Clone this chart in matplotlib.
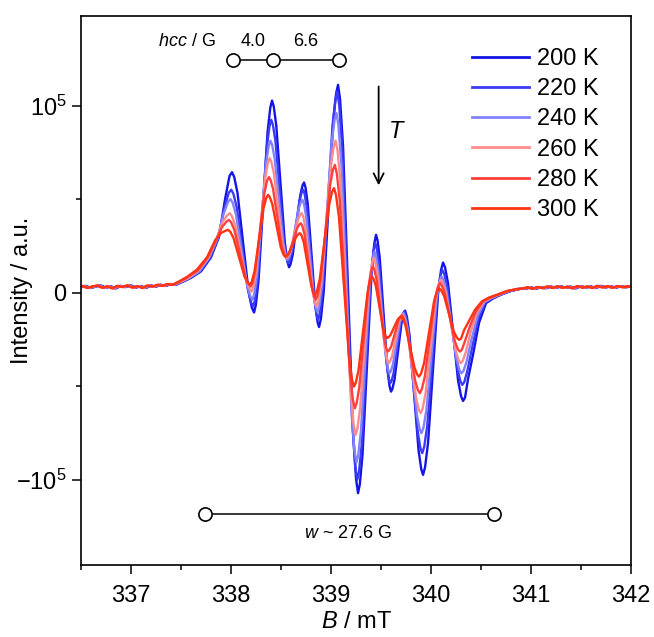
import matplotlib
matplotlib.use('Agg')
import matplotlib.pyplot as plt
import numpy as np
from matplotlib.ticker import FixedLocator, FixedFormatter, MultipleLocator

plt.rcParams['font.family'] = ['Liberation Sans', 'DejaVu Sans']
plt.rcParams['mathtext.fontset'] = 'custom'
plt.rcParams['mathtext.rm'] = 'Liberation Sans'
plt.rcParams['mathtext.it'] = 'Liberation Sans:italic'
plt.rcParams['axes.unicode_minus'] = True

# ---------------- data ----------------
labels = ['200 K', '220 K', '240 K', '260 K', '280 K', '300 K']
colors = ['#1414e6', '#3a3af7', '#8282ff', '#ff8c8c', '#ff4040', '#ff3414']
field_shift = [0.0, -0.008, -0.016, -0.024, -0.032, -0.040]   # mT, line positions drift with T
unit = 1e5  # intensities below are in units of 10^5

B_left = [336.50, 336.55, 336.60, 336.65, 336.70, 336.75, 336.80, 336.85, 336.90, 336.95,
          337.00, 337.05, 337.10, 337.15, 337.20, 337.25, 337.30, 337.35, 337.40, 337.45]
I_left = [0.030, 0.037, 0.026, 0.034, 0.039, 0.027, 0.035, 0.024, 0.037, 0.031,
          0.040, 0.028, 0.036, 0.026, 0.039, 0.033, 0.043, 0.037, 0.047, 0.043]

B_right = [340.95, 341.00, 341.05, 341.10, 341.15, 341.20, 341.25, 341.30, 341.35, 341.40,
           341.45, 341.50, 341.55, 341.60, 341.65, 341.70, 341.75, 341.80, 341.85, 341.90,
           341.95, 342.00, 342.05]
I_right = [0.022, 0.030, 0.021, 0.031, 0.025, 0.034, 0.026, 0.035, 0.027, 0.033,
           0.024, 0.036, 0.028, 0.034, 0.026, 0.037, 0.029, 0.035, 0.027, 0.036,
           0.030, 0.034, 0.032]

B_core = [337.50, 337.60, 337.70, 337.80, 337.88, 337.94,
          337.985, 338.01, 338.032,
          338.065, 338.12, 338.175,
          338.208, 338.23, 338.248,
          338.275, 338.32, 338.365,
          338.392, 338.41, 338.427,
          338.4525, 338.495, 338.5375,
          338.563, 338.58, 338.595,
          338.6175, 338.655, 338.6925,
          338.715, 338.73, 338.745,
          338.7675, 338.805, 338.8425,
          338.865, 338.88, 338.899,
          338.9275, 338.975, 339.0225,
          339.051, 339.07, 339.09,
          339.12, 339.17, 339.22,
          339.25, 339.27, 339.288,
          339.315, 339.36, 339.405,
          339.432, 339.45, 339.465,
          339.4875, 339.525, 339.5625,
          339.585, 339.60, 339.614,
          339.635, 339.67, 339.705,
          339.726, 339.74, 339.758,
          339.785, 339.83, 339.875,
          339.902, 339.92, 339.94,
          339.97, 340.02, 340.07,
          340.10, 340.12, 340.14,
          340.17, 340.22, 340.27,
          340.30, 340.32, 340.34,
          340.37, 340.42, 340.48, 340.55, 340.62, 340.70, 340.80, 340.90]

I_200 = [0.055, 0.08, 0.115, 0.19, 0.30, 0.50,
         0.625, 0.645, 0.619,
         0.533, 0.270, 0.008,
         -0.079, -0.105, -0.065,
         0.065, 0.462, 0.858,
         0.988, 1.028, 0.997,
         0.894, 0.583, 0.271,
         0.168, 0.137, 0.153,
         0.205, 0.364, 0.522,
         0.574, 0.590, 0.563,
         0.474, 0.204, -0.067,
         -0.156, -0.183, -0.138,
         0.011, 0.465, 0.918,
         1.067, 1.112, 1.036,
         0.785, 0.021, -0.744,
         -0.995, -1.071, -1.023,
         -0.864, -0.381, 0.103,
         0.262, 0.310, 0.281,
         0.184, -0.109, -0.402,
         -0.499, -0.528, -0.513,
         -0.463, -0.312, -0.160,
         -0.110, -0.095, -0.126,
         -0.227, -0.534, -0.841,
         -0.942, -0.973, -0.933,
         -0.803, -0.406, -0.008,
         0.122, 0.162, 0.136,
         0.051, -0.208, -0.467,
         -0.552, -0.578, -0.560,
         -0.46, -0.33, -0.16, -0.055, -0.03, -0.01, 0.01, 0.022]

I_220 = [0.055, 0.08, 0.115, 0.19, 0.29, 0.45,
         0.535, 0.551, 0.529,
         0.457, 0.239, 0.021,
         -0.051, -0.073, -0.038,
         0.077, 0.426, 0.775,
         0.890, 0.925, 0.898,
         0.810, 0.542, 0.274,
         0.186, 0.159, 0.173,
         0.218, 0.355, 0.492,
         0.537, 0.551, 0.527,
         0.447, 0.204, -0.040,
         -0.120, -0.144, -0.101,
         0.039, 0.466, 0.893,
         1.033, 1.076, 1.003,
         0.765, 0.038, -0.689,
         -0.927, -1.000, -0.956,
         -0.810, -0.367, 0.076,
         0.222, 0.266, 0.240,
         0.154, -0.109, -0.371,
         -0.457, -0.483, -0.470,
         -0.426, -0.292, -0.157,
         -0.113, -0.100, -0.126,
         -0.214, -0.479, -0.743,
         -0.831, -0.857, -0.823,
         -0.710, -0.367, -0.024,
         0.089, 0.123, 0.101,
         0.031, -0.185, -0.400,
         -0.470, -0.492, -0.478,
         -0.42, -0.29, -0.14, -0.052, -0.03, -0.01, 0.01, 0.022]

I_240 = [0.055, 0.08, 0.115, 0.19, 0.29, 0.42,
         0.485, 0.501, 0.482,
         0.420, 0.232, 0.044,
         -0.018, -0.037, -0.007,
         0.091, 0.388, 0.686,
         0.783, 0.813, 0.791,
         0.718, 0.495, 0.272,
         0.198, 0.176, 0.187,
         0.224, 0.337, 0.449,
         0.486, 0.497, 0.476,
         0.407, 0.196, -0.015,
         -0.084, -0.105, -0.068,
         0.055, 0.428, 0.801,
         0.924, 0.961, 0.896,
         0.681, 0.027, -0.627,
         -0.842, -0.907, -0.868,
         -0.738, -0.343, 0.052,
         0.182, 0.221, 0.198,
         0.123, -0.105, -0.332,
         -0.407, -0.430, -0.419,
         -0.382, -0.269, -0.156,
         -0.119, -0.108, -0.130,
         -0.204, -0.429, -0.654,
         -0.728, -0.750, -0.721,
         -0.625, -0.332, -0.039,
         0.058, 0.087, 0.069,
         0.009, -0.172, -0.352,
         -0.412, -0.430, -0.418,
         -0.37, -0.25, -0.125, -0.05, -0.028, -0.01, 0.01, 0.022]

I_260 = [0.055, 0.08, 0.12, 0.19, 0.29, 0.38,
         0.414, 0.426, 0.411,
         0.363, 0.217, 0.070,
         0.022, 0.007, 0.032,
         0.114, 0.364, 0.613,
         0.695, 0.720, 0.701,
         0.640, 0.453, 0.266,
         0.205, 0.186, 0.194,
         0.222, 0.306, 0.390,
         0.418, 0.426, 0.409,
         0.351, 0.177, 0.002,
         -0.056, -0.073, -0.042,
         0.060, 0.371, 0.681,
         0.783, 0.814, 0.759,
         0.578, 0.028, -0.523,
         -0.704, -0.759, -0.726,
         -0.617, -0.287, 0.044,
         0.153, 0.186, 0.166,
         0.102, -0.095, -0.292,
         -0.356, -0.376, -0.367,
         -0.337, -0.246, -0.154,
         -0.124, -0.115, -0.133,
         -0.194, -0.379, -0.564,
         -0.625, -0.643, -0.618,
         -0.536, -0.287, -0.037,
         0.045, 0.070, 0.054,
         0.003, -0.153, -0.309,
         -0.360, -0.376, -0.365,
         -0.32, -0.21, -0.11, -0.048, -0.027, -0.01, 0.01, 0.022]

I_280 = [0.055, 0.085, 0.12, 0.19, 0.28, 0.35,
         0.380, 0.390, 0.378,
         0.337, 0.212, 0.087,
         0.046, 0.034, 0.054,
         0.122, 0.327, 0.531,
         0.599, 0.619, 0.604,
         0.555, 0.405, 0.255,
         0.206, 0.191, 0.197,
         0.218, 0.282, 0.345,
         0.366, 0.372, 0.358,
         0.311, 0.168, 0.024,
         -0.023, -0.037, -0.012,
         0.071, 0.324, 0.576,
         0.659, 0.684, 0.638,
         0.489, 0.034, -0.422,
         -0.571, -0.617, -0.590,
         -0.503, -0.238, 0.027,
         0.114, 0.141, 0.125,
         0.073, -0.087, -0.246,
         -0.298, -0.314, -0.307,
         -0.285, -0.217, -0.149,
         -0.127, -0.120, -0.135,
         -0.182, -0.328, -0.474,
         -0.521, -0.536, -0.515,
         -0.448, -0.242, -0.036,
         0.031, 0.052, 0.039,
         -0.003, -0.131, -0.259,
         -0.301, -0.314, -0.305,
         -0.26, -0.18, -0.10, -0.046, -0.026, -0.01, 0.01, 0.021]

I_300 = [0.055, 0.085, 0.125, 0.19, 0.28, 0.32,
         0.332, 0.337, 0.327,
         0.293, 0.190, 0.087,
         0.053, 0.043, 0.060,
         0.115, 0.284, 0.452,
         0.507, 0.524, 0.512,
         0.475, 0.359, 0.244,
         0.206, 0.194, 0.198,
         0.213, 0.257, 0.300,
         0.315, 0.319, 0.307,
         0.270, 0.154, 0.039,
         0.001, -0.011, 0.009,
         0.075, 0.275, 0.474,
         0.540, 0.560, 0.523,
         0.401, 0.030, -0.342,
         -0.464, -0.501, -0.480,
         -0.413, -0.207, -0.001,
         0.066, 0.087, 0.075,
         0.038, -0.078, -0.193,
         -0.230, -0.242, -0.238,
         -0.225, -0.185, -0.144,
         -0.131, -0.127, -0.138,
         -0.175, -0.288, -0.400,
         -0.437, -0.448, -0.431,
         -0.377, -0.212, -0.046,
         0.008, 0.025, 0.015,
         -0.016, -0.113, -0.210,
         -0.241, -0.251, -0.245,
         -0.20, -0.15, -0.09, -0.045, -0.025, -0.01, 0.01, 0.02]

spectra = [I_200, I_220, I_240, I_260, I_280, I_300]

hcc_B = [338.02, 338.42, 339.078]
hcc_values = ['4.0', '6.6']
w_B = [337.742, 340.628]
w_text = '$w$ ~ 27.6 G'

# ---------------- figure ----------------
fig = plt.figure(figsize=(6.54, 6.37), dpi=100)
ax = fig.add_axes([0.1239, 0.1130, 0.841, 0.8619])

for I_core, lab, col, sh in zip(spectra, labels, colors, field_shift):
    B = np.concatenate([B_left, B_core, B_right]) + sh
    I = np.concatenate([I_left, I_core, I_right]) * unit
    ax.plot(B, I, color=col, lw=1.7, label=lab, solid_joinstyle='round')

ax.set_xlim(336.5, 342.0)
ax.set_ylim(-1.455e5, 1.48e5)

ax.xaxis.set_major_locator(MultipleLocator(1))
ax.xaxis.set_minor_locator(MultipleLocator(0.5))
ax.yaxis.set_major_locator(FixedLocator([-1e5, 0, 1e5]))
ax.yaxis.set_major_formatter(FixedFormatter(['$\u221210^5$', '0', '$10^5$']))
ax.yaxis.set_minor_locator(FixedLocator([-0.5e5, 0.5e5]))

ax.tick_params(which='major', direction='out', length=6.5, width=1.1, labelsize=17)
ax.tick_params(axis='x', which='major', pad=8)
ax.tick_params(axis='y', which='major', pad=4)
ax.tick_params(which='minor', direction='out', length=3.5, width=1.1)
for s in ax.spines.values():
    s.set_linewidth(1.2)

ax.set_xlabel('$B$ / mT', fontsize=17, labelpad=3)
ax.set_ylabel('Intensity / a.u.', fontsize=17)
ax.yaxis.set_label_coords(-0.088, 0.5)

# hyperfine coupling annotation
y_hcc = 1.246e5
ax.plot(hcc_B, [y_hcc] * 3, color='black', lw=1.1, marker='o', ms=9.5,
        mfc='white', mec='black', mew=1.2, zorder=5)
ax.text(337.85, 1.344e5, '$hcc$ / G', ha='right', va='center', fontsize=13)
ax.text((hcc_B[0] + hcc_B[1]) / 2, 1.344e5, hcc_values[0], ha='center', va='center', fontsize=13)
ax.text((hcc_B[1] + hcc_B[2]) / 2, 1.344e5, hcc_values[1], ha='center', va='center', fontsize=13)

# linewidth annotation
y_w = -1.182e5
ax.plot(w_B, [y_w] * 2, color='black', lw=1.1, marker='o', ms=9.5,
        mfc='white', mec='black', mew=1.2, zorder=5)
ax.text(339.17, -1.285e5, w_text, ha='center', va='center', fontsize=13)

# temperature arrow
ax.annotate('', xy=(339.476, 0.56e5), xytext=(339.476, 1.118e5),
            arrowprops=dict(arrowstyle='->', lw=1.3, color='black', mutation_scale=18))
ax.text(339.656, 0.861e5, '$T$', ha='center', va='center', fontsize=17)

leg = ax.legend(loc='upper left', bbox_to_anchor=(0.694, 0.959), frameon=False,
                fontsize=17, handlelength=2.4, handletextpad=0.35, labelspacing=0.35,
                borderaxespad=0.0)
for line in leg.get_lines():
    line.set_linewidth(2.0)

fig.savefig('out.png', dpi=100)
